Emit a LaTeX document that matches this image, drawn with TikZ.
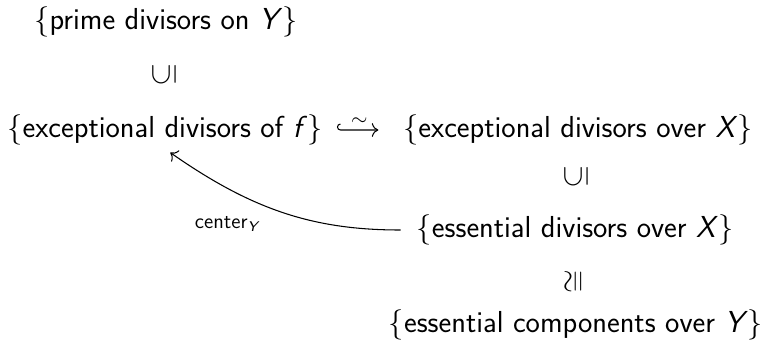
\documentclass[tikz,border=0pt]{standalone}
\usepackage{amsmath,amssymb}
\usepackage{graphicx}
\usepackage{tikz}
\usetikzlibrary{arrows.meta, positioning, cd}
\renewcommand{\familydefault}{\sfdefault}
\newcommand{\vX}{\textit{X}}
\newcommand{\vY}{\textit{Y}}
\newcommand{\vf}{\textit{f}}

\begin{document}
\begin{tikzpicture}[
    setnode/.style={inner sep=2pt, font=\LARGE},
    relnode/.style={inner sep=1pt, font=\LARGE},
    arrow/.style={-{tikzcd to}, semithick},
    note/.style={font=\large},
]
\useasboundingbox (0,0) rectangle (15.38,-6.92);

% Insiemi
\node[setnode] (prime)  at (3.32,-0.44) {$\{$prime divisors on \vY$\}$};
\node[setnode] (exc)    at (3.30,-2.60) {$\{$exceptional divisors of \vf$\}$};
\node[setnode] (excX)   at (11.56,-2.60) {$\{$exceptional divisors over \vX$\}$};
\node[setnode] (ess)    at (11.50,-4.60) {$\{$essential divisors over \vX$\}$};
\node[setnode] (comp)   at (11.52,-6.50) {$\{$essential components over \vY$\}$};

% Inclusioni
\node[relnode] (incA) at (3.28,-1.50)  {\rotatebox{90}{$\subseteq$}};
\node[relnode] (incB) at (11.52,-3.54) {\rotatebox{90}{$\subseteq$}};
\node[relnode] (iso)  at (11.50,-5.64) {\rotatebox{90}{$\cong$}};

% Frecce
\draw[arrow] ([xshift=8pt, yshift=3.4pt]exc.east)
    arc[start angle=90, end angle=270, radius=1.7pt] --
    node[above=1pt, inner sep=1pt, note] (tilde) {$\sim$}
    ([xshift=-12pt]excX.west);
\draw[arrow, shorten <=7pt] (ess.west) to[out=180, in=-35]
    node[pos=0.62, below left=4pt and -4pt, note] (ctr) {center$_{\vY}$}
    ([xshift=3pt, yshift=-2pt]exc.south);

\end{tikzpicture}
\end{document}
